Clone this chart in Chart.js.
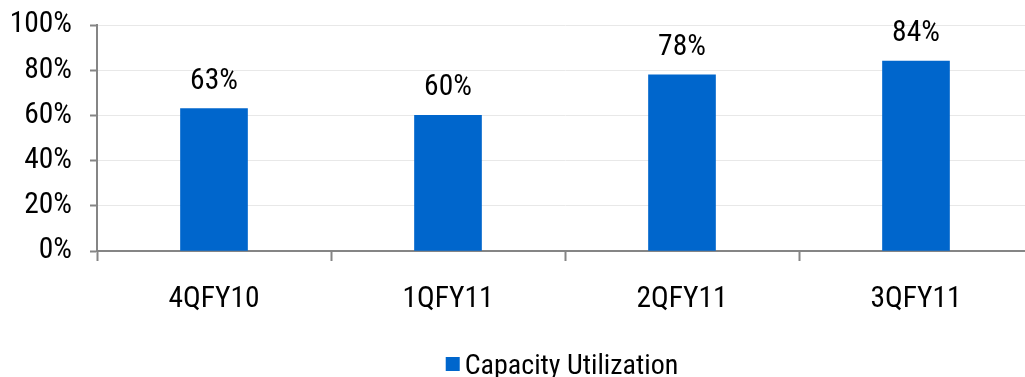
<!DOCTYPE html>
<html>
<head>
<meta charset="utf-8">
<script src="https://cdn.jsdelivr.net/npm/chart.js@4/dist/chart.umd.min.js"></script>
<style>
  html, body { margin: 0; padding: 0; background: #fff; overflow: hidden; }
  #wrap { position: relative; width: 1040px; height: 377px; }
</style>
</head>
<body>
<div id="wrap"><canvas id="c"></canvas></div>
<script>
// Quarterly capacity utilization (%)
const categories = ['4QFY10', '1QFY11', '2QFY11', '3QFY11'];
const utilization = [63, 60, 78, 84];
const seriesName = 'Capacity Utilization';
const yTicks = [0, 20, 40, 60, 80, 100];

const FONT = "'Roboto Condensed', 'Liberation Sans Narrow', sans-serif";
const FONT_SIZE = 29.5;
const LEGEND_SIZE = 28;
const BAR = '#0066cc';
const AXIS = '#858585';

// Value labels above each bar
const valueLabels = {
  id: 'valueLabels',
  afterDatasetsDraw(chart) {
    const ctx = chart.ctx;
    const meta = chart.getDatasetMeta(0);
    ctx.save();
    ctx.font = FONT_SIZE + 'px ' + FONT;
    ctx.fillStyle = '#000';
    ctx.textAlign = 'center';
    ctx.textBaseline = 'alphabetic';
    meta.data.forEach((bar, i) => {
      ctx.fillText(chart.data.datasets[0].data[i] + '%', bar.x, bar.y - 20);
    });
    ctx.restore();
  }
};

// Legend drawn below the axis labels: small square swatch plus series name
const bottomLegend = {
  id: 'bottomLegend',
  afterDraw(chart) {
    const ctx = chart.ctx;
    const ds = chart.data.datasets[0];
    const area = chart.chartArea;
    ctx.save();
    ctx.font = LEGEND_SIZE + 'px ' + FONT;
    const tw = ctx.measureText(ds.label).width;
    const box = 14, gap = 5;
    const total = box + gap + tw;
    const x0 = (area.left + area.right) / 2 - total / 2 - 3;
    const baseline = chart.height - 3.5;
    ctx.fillStyle = ds.backgroundColor;
    ctx.fillRect(x0, baseline - 16.5, box, box);
    ctx.fillStyle = '#000';
    ctx.textAlign = 'left';
    ctx.textBaseline = 'alphabetic';
    ctx.fillText(ds.label, x0 + box + gap, baseline);
    ctx.restore();
  }
};

new Chart(document.getElementById('c'), {
  type: 'bar',
  data: {
    labels: categories,
    datasets: [{
      label: seriesName,
      data: utilization,
      backgroundColor: BAR,
      borderWidth: 0,
      barThickness: 67
    }]
  },
  options: {
    responsive: true,
    maintainAspectRatio: false,
    animation: false,
    devicePixelRatio: 1,
    layout: { padding: { top: 25, right: 7, left: 0, bottom: 0 } },
    plugins: {
      legend: { display: false },
      tooltip: { enabled: false }
    },
    scales: {
      x: {
        offset: true,
        afterFit(scale) {
          scale.height = 126;
          scale.paddingLeft = 0;
          scale.paddingRight = 0;
        },
        grid: {
          offset: true,
          drawOnChartArea: false,
          drawTicks: true,
          tickLength: 10,
          tickColor: AXIS,
          tickWidth: 2
        },
        border: { display: true, color: AXIS, width: 2 },
        ticks: {
          color: '#000',
          font: { family: FONT, size: FONT_SIZE },
          padding: 21,
          maxRotation: 0
        }
      },
      y: {
        min: 0,
        max: 100,
        afterFit(scale) {
          scale.width = 97;
          scale.paddingTop = 0;
          scale.paddingBottom = 0;
        },
        afterBuildTicks(scale) { scale.ticks = yTicks.map(v => ({ value: v })); },
        grid: {
          color: '#e8e8e8',
          lineWidth: 1,
          borderDash: [3, 2],
          tickBorderDash: [],
          tickLength: 7,
          tickColor: AXIS,
          tickWidth: 2
        },
        border: { display: true, color: AXIS, width: 2 },
        ticks: {
          color: '#000',
          font: { family: FONT, size: FONT_SIZE },
          padding: 18,
          callback: v => v + '%'
        }
      }
    }
  },
  plugins: [valueLabels, bottomLegend]
});
</script>
</body>
</html>
